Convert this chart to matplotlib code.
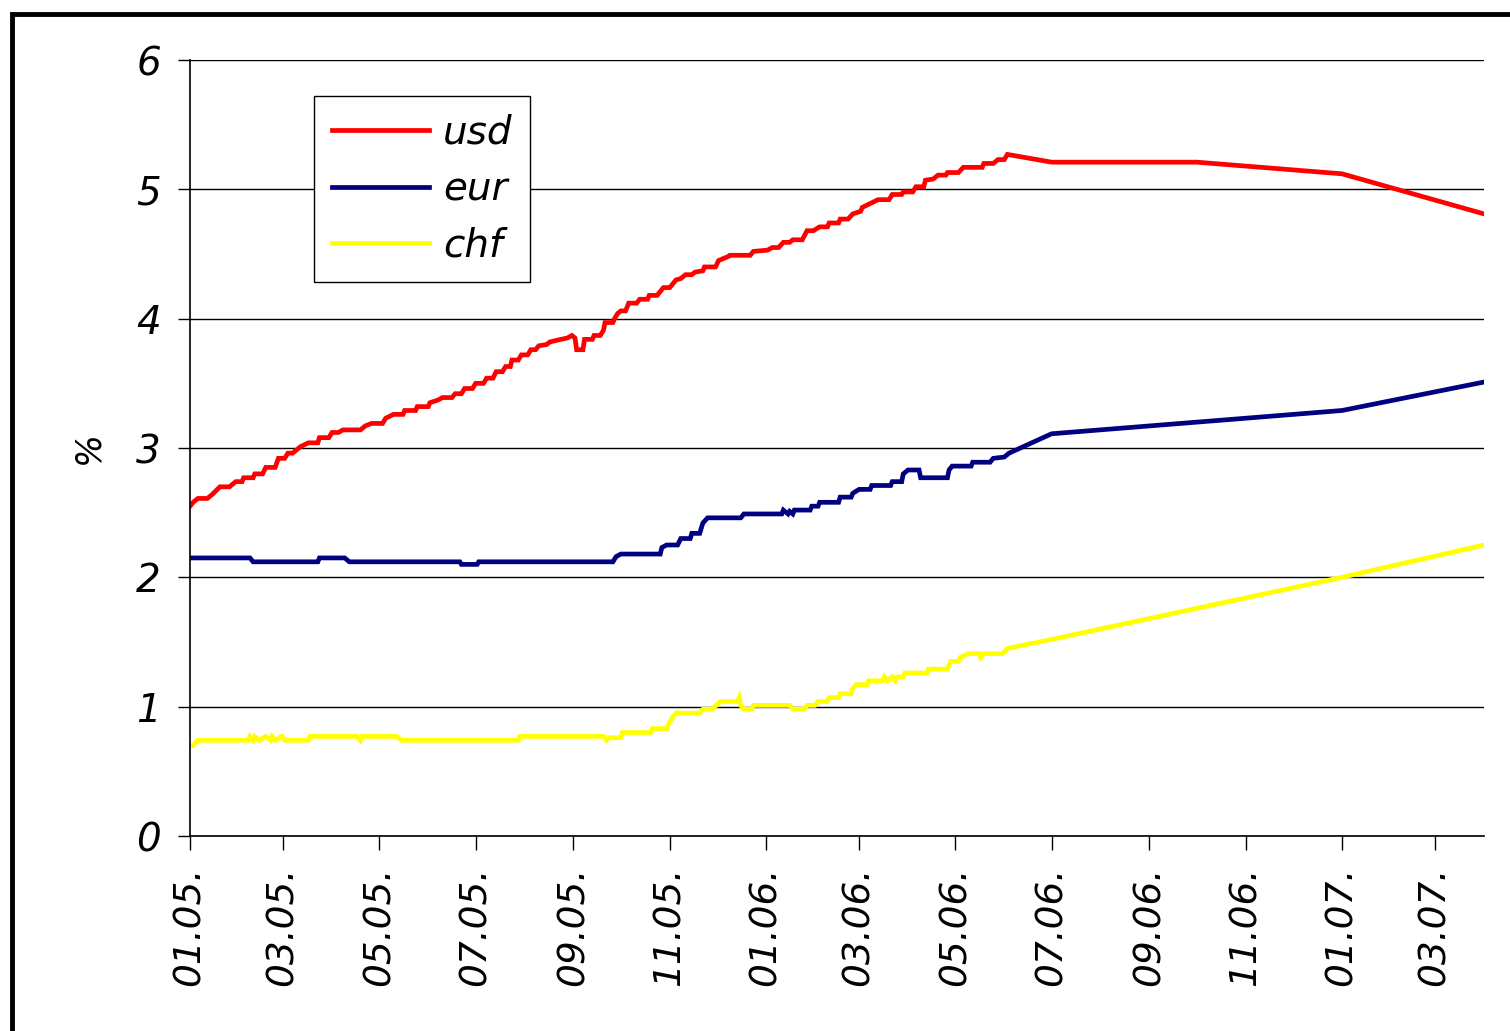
import numpy as np
import pandas as pd
import matplotlib
matplotlib.use("Agg")
import matplotlib.pyplot as plt
from matplotlib.patches import Rectangle

# ---- data (x = days since 01.01.2005) ----
usd_day = [0, 2, 5, 11, 14, 19, 25, 29, 33, 34, 40, 41, 46, 48, 54, 56, 60, 62, 65, 67, 70, 75, 81, 82, 88,
           90, 94, 97, 108, 111, 115, 122, 124, 129, 135, 136, 143, 144, 151, 152, 157, 160, 166, 168, 172,
           174, 179, 181, 186, 188, 192, 194, 198, 200, 203, 204, 208, 210, 214, 216, 219, 221, 226, 228,
           235, 239, 242, 244, 245, 249, 250, 255, 256, 260, 262, 263, 268, 269, 271, 273, 276, 278, 283,
           285, 290, 291, 296, 300, 304, 308, 311, 314, 318, 320, 325, 326, 333, 335, 341, 342, 355, 357,
           366, 369, 373, 376, 380, 382, 388, 391, 395, 399, 404, 405, 411, 412, 417, 420, 425, 426, 431,
           436, 443, 445, 451, 452, 458, 460, 465, 466, 471, 474, 479, 480, 487, 490, 502, 503, 509, 512,
           516, 518, 546, 638, 730, 820]
usd_val = [2.55, 2.58, 2.61, 2.61, 2.64, 2.70, 2.70, 2.74, 2.74, 2.77, 2.77, 2.80, 2.80, 2.85, 2.85, 2.92,
           2.92, 2.96, 2.96, 2.98, 3.01, 3.04, 3.04, 3.08, 3.08, 3.12, 3.12, 3.14, 3.14, 3.17, 3.19, 3.19,
           3.23, 3.26, 3.26, 3.29, 3.29, 3.32, 3.32, 3.35, 3.37, 3.39, 3.39, 3.42, 3.42, 3.46, 3.46, 3.50,
           3.50, 3.54, 3.54, 3.59, 3.59, 3.63, 3.63, 3.68, 3.68, 3.72, 3.72, 3.76, 3.76, 3.79, 3.80, 3.82,
           3.84, 3.85, 3.87, 3.85, 3.76, 3.76, 3.84, 3.84, 3.87, 3.87, 3.91, 3.97, 3.97, 4.00, 4.04, 4.06,
           4.06, 4.12, 4.12, 4.15, 4.15, 4.18, 4.18, 4.24, 4.24, 4.30, 4.31, 4.34, 4.34, 4.36, 4.37, 4.40,
           4.40, 4.45, 4.48, 4.49, 4.49, 4.52, 4.53, 4.55, 4.55, 4.59, 4.59, 4.61, 4.61, 4.68, 4.68, 4.71,
           4.71, 4.74, 4.74, 4.77, 4.77, 4.81, 4.83, 4.86, 4.89, 4.92, 4.92, 4.96, 4.96, 4.98, 4.98, 5.02,
           5.02, 5.07, 5.08, 5.11, 5.11, 5.13, 5.13, 5.17, 5.17, 5.20, 5.20, 5.23, 5.23, 5.27, 5.21, 5.21,
           5.12, 4.81]

eur_day = [0, 38, 40, 46, 81, 82, 98, 101, 171, 172, 182, 183, 268, 270, 273, 298, 299, 302, 309, 311, 317,
           318, 323, 325, 328, 349, 351, 375, 376, 379, 380, 382, 383, 393, 394, 398, 399, 411, 412, 419,
           420, 424, 431, 432, 444, 445, 451, 452, 455, 462, 463, 480, 481, 483, 495, 496, 507, 509, 516,
           519, 546, 638, 730, 820]
eur_val = [2.15, 2.15, 2.12, 2.12, 2.12, 2.15, 2.15, 2.12, 2.12, 2.10, 2.10, 2.12, 2.12, 2.16, 2.18, 2.18,
           2.23, 2.25, 2.25, 2.30, 2.30, 2.34, 2.34, 2.42, 2.46, 2.46, 2.49, 2.49, 2.52, 2.49, 2.51, 2.49,
           2.52, 2.52, 2.55, 2.55, 2.58, 2.58, 2.62, 2.62, 2.65, 2.68, 2.68, 2.71, 2.71, 2.74, 2.74, 2.80,
           2.83, 2.83, 2.77, 2.77, 2.83, 2.86, 2.86, 2.89, 2.89, 2.92, 2.93, 2.96, 3.11, 3.20, 3.29, 3.51]

chf_day = [0, 2, 5, 37, 38, 40, 41, 44, 48, 51, 52, 54, 58, 60, 75, 76, 106, 108, 109, 131, 134, 208, 209,
           262, 264, 266, 273, 274, 292, 293, 302, 303, 306, 308, 323, 325, 331, 336, 347, 348, 349, 351,
           356, 357, 380, 382, 389, 391, 396, 398, 404, 405, 411, 412, 419, 420, 422, 429, 430, 439, 440,
           442, 445, 447, 448, 452, 453, 467, 468, 480, 481, 482, 487, 488, 493, 500, 501, 503, 515, 518,
           546, 638, 730, 820]
chf_val = [0.70, 0.70, 0.74, 0.74, 0.77, 0.74, 0.77, 0.74, 0.77, 0.74, 0.77, 0.74, 0.77, 0.74, 0.74, 0.77,
           0.77, 0.74, 0.77, 0.77, 0.74, 0.74, 0.77, 0.77, 0.74, 0.76, 0.76, 0.80, 0.80, 0.83, 0.83, 0.86,
           0.92, 0.95, 0.95, 0.98, 0.98, 1.04, 1.04, 1.07, 1.01, 0.98, 0.98, 1.01, 1.01, 0.98, 0.98, 1.01,
           1.01, 1.04, 1.04, 1.07, 1.07, 1.10, 1.10, 1.14, 1.17, 1.17, 1.20, 1.20, 1.23, 1.20, 1.23, 1.20,
           1.23, 1.23, 1.26, 1.26, 1.29, 1.29, 1.32, 1.35, 1.35, 1.38, 1.41, 1.41, 1.38, 1.41, 1.41, 1.45,
           1.52, 1.76, 2.00, 2.25]

series_names = ["usd", "eur", "chf"]
series_colors = ["#FF0000", "#000080", "#FFFF00"]
y_ticks = [0, 1, 2, 3, 4, 5, 6]
x_start = "2005-01-01"
x_end = "2007-04-01"
tick_fmt = "%m.%y."

base = pd.Timestamp(x_start)
def to_dates(days):
    return base + pd.to_timedelta(np.array(days), unit="D")

W, H = 1510, 1031
fig = plt.figure(figsize=(W / 100, H / 100), dpi=100)
fig.patch.set_facecolor("white")

# outer frame
fig.add_artist(Rectangle((12 / W, -0.1), 1.2, 1.1 - 14 / H, transform=fig.transFigure,
                         fill=False, edgecolor="black", linewidth=3.5, clip_on=False))

ax = fig.add_axes([190 / W, (H - 836) / H, 1294 / W, 776 / H])
FS = 28
fam = "DejaVu Sans"

for days, vals, name, col in zip([usd_day, eur_day, chf_day], [usd_val, eur_val, chf_val],
                                 series_names, series_colors):
    ax.plot(to_dates(days), vals, color=col, lw=3.4, label=name, solid_joinstyle="miter")

ax.set_ylim(0, 6)
ax.set_yticks(y_ticks)
ax.set_yticklabels([str(v) for v in y_ticks], fontsize=FS, fontstyle="italic", family=fam)
ax.set_xlim(pd.Timestamp(x_start), pd.Timestamp(x_end))
xt = pd.date_range(x_start, "2007-03-01", freq="2MS")
ax.set_xticks(xt)
ax.set_xticklabels([d.strftime(tick_fmt) for d in xt], rotation=90, fontsize=27,
                   fontstyle="italic", family=fam)

ax.grid(axis="y", color="black", lw=1)
ax.set_axisbelow(True)
for s in ["top", "right"]:
    ax.spines[s].set_visible(False)
for s in ["left", "bottom"]:
    ax.spines[s].set_color("black")
    ax.spines[s].set_linewidth(1.2)
ax.tick_params(axis="y", length=9, width=1, pad=12)
ax.tick_params(axis="x", length=10, width=1, pad=12)

ax.set_ylabel("%", fontsize=25, fontstyle="italic", family=fam, labelpad=22)

leg = ax.legend(loc="upper left", bbox_to_anchor=((314 - 190) / 1294, (836 - 96) / 776),
                borderaxespad=0, fancybox=False, framealpha=1, edgecolor="black",
                prop={"size": FS, "style": "italic", "family": fam}, handlelength=2.5,
                labelspacing=0.48, handletextpad=0.36, borderpad=0.45)
leg.get_frame().set_linewidth(1)
for ln in leg.get_lines():
    ln.set_linewidth(3.4)

fig.savefig("out.png", dpi=100)
